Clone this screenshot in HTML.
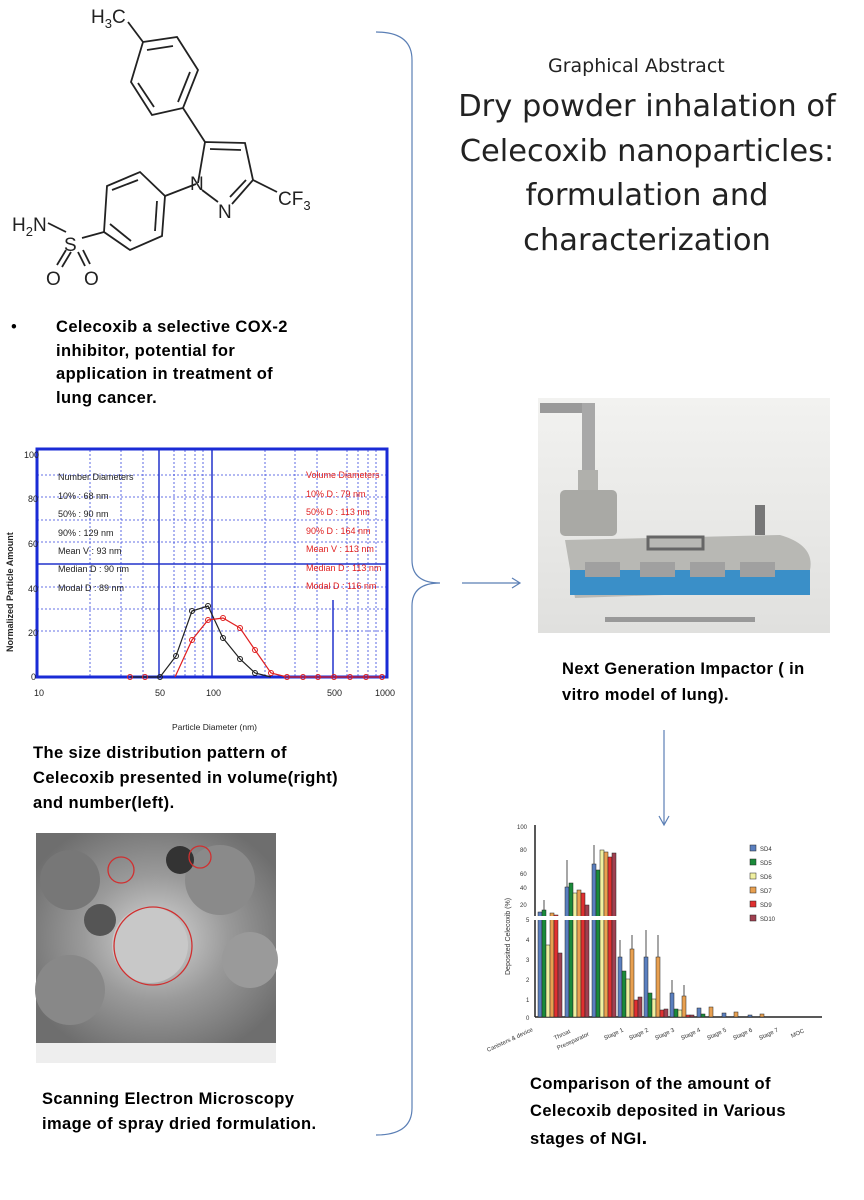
<!DOCTYPE html>
<html><head><meta charset="utf-8"><style>
body{margin:0;background:#fff;width:864px;height:1200px;overflow:hidden;font-family:"Liberation Sans",sans-serif}
svg{position:absolute;left:0;top:0}
.t{position:absolute;font-family:"DejaVu Sans","Liberation Sans",sans-serif;color:#000}
.b{position:absolute;font-weight:bold;font-size:16.5px;letter-spacing:0.4px;line-height:26px;color:#000;white-space:nowrap}
</style></head><body>
<svg width="864" height="1200" viewBox="0 0 864 1200">
<path d="M376,32 Q412,32 412,60 L412,560 Q412,583 440,583 Q412,583 412,606 L412,1108 Q412,1135 376,1135" fill="none" stroke="#5b7fb5" stroke-width="1.2"/>
<line x1="462" y1="583" x2="519" y2="583" stroke="#5b7fb5" stroke-width="1.2"/>
<path d="M512,578 L520,583 L512,588" fill="none" stroke="#5b7fb5" stroke-width="1.2"/>
<line x1="664" y1="730" x2="664" y2="824" stroke="#5b7fb5" stroke-width="1.2"/>
<path d="M659,816 L664,825 L669,816" fill="none" stroke="#5b7fb5" stroke-width="1.2"/>

<g stroke="#222" stroke-width="1.8" fill="none">
<line x1="128" y1="22" x2="143" y2="42"/>
<polygon points="143,42 177,37 198,70 183,108 152,115 131,82"/>
<line x1="147" y1="50" x2="173" y2="46"/><line x1="190" y1="72" x2="178" y2="102"/><line x1="138" y1="83" x2="154" y2="107"/>
<line x1="183" y1="108" x2="205" y2="142"/>
<polyline points="198,183 205,142 245,143 253,180 232,204"/>
<line x1="210" y1="149" x2="241" y2="150"/>
<line x1="246" y1="180" x2="230" y2="197"/>
<line x1="202" y1="190" x2="218" y2="202"/>
<line x1="253" y1="180" x2="277" y2="192"/>
<line x1="196" y1="184" x2="165" y2="196"/>
<polygon points="165,196 162,236 130,250 104,232 107,186 140,172"/>
<line x1="157" y1="201" x2="155" y2="231"/><line x1="110" y1="224" x2="131" y2="241"/><line x1="112" y1="190" x2="138" y2="180"/>
<line x1="104" y1="232" x2="82" y2="238"/>
<line x1="48" y1="223" x2="66" y2="232"/>
<line x1="66" y1="250" x2="57" y2="265"/><line x1="71" y1="252" x2="62" y2="267"/>
<line x1="78" y1="252" x2="85" y2="266"/><line x1="83" y1="250" x2="90" y2="264"/>
</g>
<g font-family="Liberation Sans,sans-serif" font-size="19" fill="#222">
<text x="91" y="23">H<tspan font-size="13" dy="5">3</tspan><tspan dy="-5">C</tspan></text>
<text x="190" y="190">N</text><text x="218" y="218">N</text>
<text x="278" y="205">CF<tspan font-size="13" dy="5">3</tspan></text>
<text x="12" y="231">H<tspan font-size="13" dy="5">2</tspan><tspan dy="-5">N</tspan></text>
<text x="64" y="251">S</text>
<text x="46" y="285">O</text><text x="84" y="285">O</text>
</g>

<g stroke="#3344dd" stroke-width="0.8" stroke-dasharray="2,2">
<line x1="37" y1="631" x2="388" y2="631"/><line x1="37" y1="609" x2="388" y2="609"/><line x1="37" y1="587" x2="388" y2="587"/>
<line x1="37" y1="542" x2="388" y2="542"/><line x1="37" y1="520" x2="388" y2="520"/><line x1="37" y1="497" x2="388" y2="497"/><line x1="37" y1="475" x2="388" y2="475"/>
<line x1="90" y1="450" x2="90" y2="676"/><line x1="121" y1="450" x2="121" y2="676"/><line x1="143" y1="450" x2="143" y2="676"/>
<line x1="174" y1="450" x2="174" y2="676"/><line x1="185" y1="450" x2="185" y2="676"/><line x1="195" y1="450" x2="195" y2="676"/><line x1="203" y1="450" x2="203" y2="676"/>
<line x1="265" y1="450" x2="265" y2="676"/><line x1="295" y1="450" x2="295" y2="676"/><line x1="317" y1="450" x2="317" y2="676"/>
<line x1="347" y1="450" x2="347" y2="676"/><line x1="358" y1="450" x2="358" y2="676"/><line x1="368" y1="450" x2="368" y2="676"/><line x1="376" y1="450" x2="376" y2="676"/>
</g>
<g stroke="#2233cc" stroke-width="1.5">
<line x1="37" y1="564" x2="388" y2="564"/><line x1="159" y1="450" x2="159" y2="676"/><line x1="212" y1="450" x2="212" y2="676"/><line x1="333" y1="600" x2="333" y2="676"/>
</g>
<rect x="37" y="449" width="350" height="228" fill="none" stroke="#1a2bd6" stroke-width="3"/>
<polyline points="130,677 145,677 160,677 176,656 192,611 208,606 223,638 240,659 255,673 271,677" fill="none" stroke="#222" stroke-width="1.2"/>
<polyline points="175,677 192,640 208,620 223,618 240,628 255,650 271,673 287,677 303,677 318,677 334,677 350,677 366,677 382,677" fill="none" stroke="#e02020" stroke-width="1.2"/>
<g fill="none" stroke="#222" stroke-width="1"><circle cx="160" cy="677" r="2.5"/><circle cx="176" cy="656" r="2.5"/><circle cx="192" cy="611" r="2.5"/><circle cx="208" cy="606" r="2.5"/><circle cx="223" cy="638" r="2.5"/><circle cx="240" cy="659" r="2.5"/><circle cx="255" cy="673" r="2.5"/></g>
<g fill="none" stroke="#e02020" stroke-width="1"><circle cx="130" cy="677" r="2.5"/><circle cx="145" cy="677" r="2.5"/><circle cx="192" cy="640" r="2.5"/><circle cx="208" cy="620" r="2.5"/><circle cx="223" cy="618" r="2.5"/><circle cx="240" cy="628" r="2.5"/><circle cx="255" cy="650" r="2.5"/><circle cx="271" cy="673" r="2.5"/><circle cx="287" cy="677" r="2.5"/><circle cx="303" cy="677" r="2.5"/><circle cx="318" cy="677" r="2.5"/><circle cx="334" cy="677" r="2.5"/><circle cx="350" cy="677" r="2.5"/><circle cx="366" cy="677" r="2.5"/><circle cx="382" cy="677" r="2.5"/></g>
<g font-family="Liberation Sans Narrow,Liberation Sans,sans-serif" font-size="9" fill="#222">
<text x="24" y="458">100</text><text x="28" y="502">80</text><text x="28" y="547">60</text><text x="28" y="592">40</text><text x="28" y="636">20</text><text x="31" y="680">0</text>
<text x="34" y="696">10</text><text x="155" y="696">50</text><text x="206" y="696">100</text><text x="327" y="696">500</text><text x="375" y="696">1000</text>
<text x="172" y="730" font-size="8.5">Particle Diameter    (nm)</text>
<text x="0" y="0" font-size="9" font-weight="bold" transform="translate(13,652) rotate(-90)">Normalized Particle Amount</text>
<text x="58" y="480">Number Diameters</text><text x="58" y="499">10% : 68 nm</text><text x="58" y="517">50% : 90 nm</text><text x="58" y="536">90% : 129 nm</text><text x="58" y="554">Mean V : 93 nm</text><text x="58" y="572">Median D : 90 nm</text><text x="58" y="591">Modal D : 89 nm</text>
</g>
<g font-family="Liberation Sans Narrow,Liberation Sans,sans-serif" font-size="9" fill="#e02020">
<text x="306" y="478">Volume Diameters</text><text x="306" y="497">10% D : 79 nm</text><text x="306" y="515">50% D : 113 nm</text><text x="306" y="534">90% D : 164 nm</text><text x="306" y="552">Mean V : 113 nm</text><text x="306" y="571">Median D : 113 nm</text><text x="306" y="589">Modal D : 116 nm</text>
</g>

<defs>
<radialGradient id="sg" cx="50%" cy="50%" r="60%"><stop offset="0" stop-color="#d8d8d8"/><stop offset="0.5" stop-color="#9a9a9a"/><stop offset="1" stop-color="#6e6e6e"/></radialGradient>
<linearGradient id="ng" x1="0" y1="0" x2="0" y2="1"><stop offset="0" stop-color="#f2f2f0"/><stop offset="1" stop-color="#e0e0de"/></linearGradient>
</defs>
<rect x="36" y="833" width="240" height="210" fill="url(#sg)"/>
<circle cx="70" cy="880" r="30" fill="#777"/><circle cx="220" cy="880" r="35" fill="#8a8a8a"/><circle cx="250" cy="960" r="28" fill="#9a9a9a"/><circle cx="70" cy="990" r="35" fill="#888"/><circle cx="150" cy="945" r="38" fill="#c8c8c8"/><circle cx="180" cy="860" r="14" fill="#333"/><circle cx="100" cy="920" r="16" fill="#555"/>
<rect x="36" y="1043" width="240" height="20" fill="#eee"/>
<g fill="none" stroke="#d03030" stroke-width="1.3"><circle cx="121" cy="870" r="13"/><circle cx="200" cy="857" r="11"/><circle cx="153" cy="946" r="39"/></g>

<rect x="538" y="398" width="292" height="235" fill="url(#ng)"/>
<rect x="540" y="403" width="55" height="10" fill="#9a9a9a"/><rect x="582" y="403" width="13" height="70" fill="#a8a8a8"/>
<rect x="578" y="470" width="20" height="30" fill="#b0b0ac"/>
<rect x="560" y="490" width="57" height="46" rx="5" fill="#a9a9a5"/>
<path d="M565,540 L780,535 Q815,545 810,570 L810,590 L575,598 Z" fill="#b8b8b4"/>
<rect x="570" y="570" width="240" height="25" fill="#3a8fc8"/>
<rect x="585" y="562" width="35" height="15" fill="#a0a0a0"/><rect x="640" y="562" width="35" height="15" fill="#a0a0a0"/><rect x="690" y="562" width="35" height="15" fill="#a0a0a0"/><rect x="740" y="562" width="35" height="15" fill="#a0a0a0"/>
<rect x="648" y="537" width="55" height="12" fill="none" stroke="#666" stroke-width="3"/>
<rect x="755" y="505" width="10" height="30" fill="#777"/>
<rect x="605" y="617" width="150" height="5" fill="#999"/>

<g font-family="Liberation Sans,sans-serif" font-size="6" fill="#333">
<text x="517" y="829">100</text><text x="520" y="852">80</text><text x="520" y="876">60</text><text x="520" y="890">40</text><text x="520" y="907">20</text>
<text x="526" y="922">5</text><text x="526" y="942">4</text><text x="526" y="962">3</text><text x="526" y="982">2</text><text x="526" y="1002">1</text><text x="526" y="1020">0</text>
<text transform="translate(510,975) rotate(-90)" font-size="7">Deposited Celecoxib (%)</text>
</g>
<line x1="535" y1="825" x2="535" y2="1017" stroke="#222" stroke-width="1.5"/>
<line x1="535" y1="1017" x2="822" y2="1017" stroke="#222" stroke-width="1.5"/>
<g stroke="#222" stroke-width="0.5">
<rect x="538" y="912" width="4" height="105" fill="#5a7fbf"/><rect x="542" y="910" width="4" height="107" fill="#1a8a3a"/><rect x="546" y="945" width="4" height="72" fill="#f0f0a0"/><rect x="550" y="913" width="4" height="104" fill="#e8a050"/><rect x="554" y="915" width="4" height="102" fill="#e03030"/><rect x="558" y="953" width="4" height="64" fill="#a04050"/>
<rect x="565" y="887" width="4" height="130" fill="#5a7fbf"/><rect x="569" y="883" width="4" height="134" fill="#1a8a3a"/><rect x="573" y="893" width="4" height="124" fill="#f0f0a0"/><rect x="577" y="890" width="4" height="127" fill="#e8a050"/><rect x="581" y="893" width="4" height="124" fill="#e03030"/><rect x="585" y="905" width="4" height="112" fill="#a04050"/>
<rect x="592" y="864" width="4" height="153" fill="#5a7fbf"/><rect x="596" y="870" width="4" height="147" fill="#1a8a3a"/><rect x="600" y="850" width="4" height="167" fill="#f0f0a0"/><rect x="604" y="852" width="4" height="165" fill="#e8a050"/><rect x="608" y="857" width="4" height="160" fill="#e03030"/><rect x="612" y="853" width="4" height="164" fill="#a04050"/>
<rect x="618" y="957" width="4" height="60" fill="#5a7fbf"/><rect x="622" y="971" width="4" height="46" fill="#1a8a3a"/><rect x="626" y="979" width="4" height="38" fill="#f0f0a0"/><rect x="630" y="949" width="4" height="68" fill="#e8a050"/><rect x="634" y="1000" width="4" height="17" fill="#e03030"/><rect x="638" y="997" width="4" height="20" fill="#a04050"/>
<rect x="644" y="957" width="4" height="60" fill="#5a7fbf"/><rect x="648" y="993" width="4" height="24" fill="#1a8a3a"/><rect x="652" y="999" width="4" height="18" fill="#f0f0a0"/><rect x="656" y="957" width="4" height="60" fill="#e8a050"/><rect x="660" y="1010" width="4" height="7" fill="#e03030"/><rect x="664" y="1009" width="4" height="8" fill="#a04050"/>
<rect x="670" y="993" width="4" height="24" fill="#5a7fbf"/><rect x="674" y="1009" width="4" height="8" fill="#1a8a3a"/><rect x="678" y="1010" width="4" height="7" fill="#f0f0a0"/><rect x="682" y="996" width="4" height="21" fill="#e8a050"/><rect x="686" y="1015" width="4" height="2" fill="#e03030"/><rect x="690" y="1015" width="4" height="2" fill="#a04050"/>
<rect x="697" y="1008" width="4" height="9" fill="#5a7fbf"/><rect x="701" y="1014" width="4" height="3" fill="#1a8a3a"/><rect x="709" y="1007" width="4" height="10" fill="#e8a050"/>
<rect x="722" y="1013" width="4" height="4" fill="#5a7fbf"/><rect x="734" y="1012" width="4" height="5" fill="#e8a050"/>
<rect x="748" y="1015" width="4" height="2" fill="#5a7fbf"/><rect x="760" y="1014" width="4" height="3" fill="#e8a050"/>
</g>
<g stroke="#222" stroke-width="0.8"><line x1="544" y1="910" x2="544" y2="900"/><line x1="567" y1="887" x2="567" y2="860"/><line x1="594" y1="864" x2="594" y2="845"/><line x1="620" y1="957" x2="620" y2="940"/><line x1="646" y1="957" x2="646" y2="930"/><line x1="658" y1="957" x2="658" y2="935"/><line x1="672" y1="993" x2="672" y2="980"/><line x1="632" y1="949" x2="632" y2="935"/><line x1="684" y1="996" x2="684" y2="985"/></g>
<rect x="530" y="916" width="90" height="4" fill="#fff"/>
<g font-family="Liberation Sans,sans-serif" font-size="6" fill="#333">
<rect x="750" y="845" width="6" height="6" fill="#5a7fbf" stroke="#222" stroke-width=".5"/><text x="760" y="851">SD4</text>
<rect x="750" y="859" width="6" height="6" fill="#1a8a3a" stroke="#222" stroke-width=".5"/><text x="760" y="865">SD5</text>
<rect x="750" y="873" width="6" height="6" fill="#f0f0a0" stroke="#222" stroke-width=".5"/><text x="760" y="879">SD6</text>
<rect x="750" y="887" width="6" height="6" fill="#e8a050" stroke="#222" stroke-width=".5"/><text x="760" y="893">SD7</text>
<rect x="750" y="901" width="6" height="6" fill="#e03030" stroke="#222" stroke-width=".5"/><text x="760" y="907">SD9</text>
<rect x="750" y="915" width="6" height="6" fill="#a04050" stroke="#222" stroke-width=".5"/><text x="760" y="921">SD10</text>
<text transform="translate(488,1052) rotate(-25)">Canisters &amp; device</text>
<text transform="translate(555,1040) rotate(-25)">Throat</text>
<text transform="translate(558,1050) rotate(-25)">Preseparator</text>
<text transform="translate(605,1040) rotate(-25)">Stage 1</text>
<text transform="translate(630,1040) rotate(-25)">Stage 2</text>
<text transform="translate(656,1040) rotate(-25)">Stage 3</text>
<text transform="translate(682,1040) rotate(-25)">Stage 4</text>
<text transform="translate(708,1040) rotate(-25)">Stage 5</text>
<text transform="translate(734,1040) rotate(-25)">Stage 6</text>
<text transform="translate(760,1040) rotate(-25)">Stage 7</text>
<text transform="translate(792,1038) rotate(-25)">MOC</text>
</g>
</svg>

<div class="t" style="left:548px;top:55px;font-size:19px;color:#222">Graphical Abstract</div>
<div class="t" style="left:445px;top:85px;width:404px;text-align:center;font-size:30.5px;line-height:44.5px;color:#222">Dry powder inhalation of Celecoxib nanoparticles: formulation and characterization</div>

<div class="b" style="left:11px;top:314px;font-weight:normal">•</div>
<div class="b" style="left:56px;top:316px;line-height:23.5px">Celecoxib a selective COX-2<br>inhibitor, potential for<br>application in treatment of<br>lung cancer.</div>
<div class="b" style="left:33px;top:741px;line-height:25px">The size distribution pattern of<br>Celecoxib presented in volume(right)<br>and number(left).</div>
<div class="b" style="left:42px;top:1087px;line-height:25px">Scanning Electron Microscopy<br>image of spray dried formulation.</div>
<div class="b" style="left:562px;top:656px;line-height:26px">Next Generation Impactor ( in<br>vitro model of lung).</div>
<div class="b" style="left:530px;top:1071px;line-height:27px">Comparison of the amount of<br>Celecoxib deposited in  Various<br>stages of NGI<span style="font-size:20px">.</span></div>
</body></html>
